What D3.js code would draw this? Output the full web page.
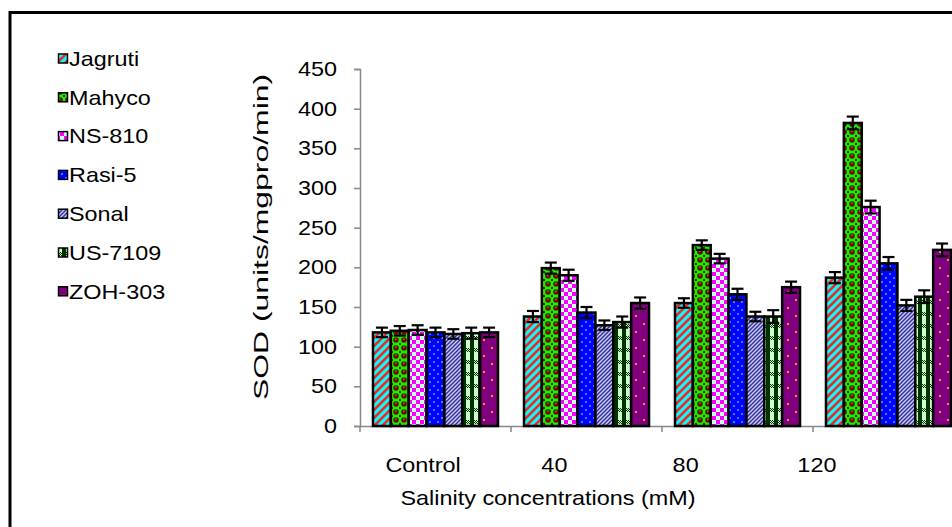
<!DOCTYPE html>
<html><head><meta charset="utf-8">
<script src="https://cdn.jsdelivr.net/npm/d3@7"></script>
<style>
html,body{margin:0;padding:0;background:#fff;}
svg text{font-family:"Liberation Sans",Arial,sans-serif;font-size:20px;fill:#000;}
</style></head>
<body><svg id="c" width="952" height="527"></svg>
<script>
// ---- data ----
const categories = ["Control", "40", "80", "120"];
const series = ["Jagruti", "Mahyco", "NS-810", "Rasi-5", "Sonal", "US-7109", "ZOH-303"];
const jagruti   = [118, 138, 155, 187];
const mahyco    = [120, 199, 228, 382];
const ns810     = [121, 190, 211, 276];
const rasi5     = [118, 143, 166, 205];
const sonal     = [116, 127, 138, 152];
const us7109    = [117, 131, 138, 163];
const zoh303    = [118, 155, 175, 222];
const errJagruti = [6, 7, 6, 7];
const errMahyco  = [6, 7, 6, 8];
const errNs810   = [6, 7, 6, 8];
const errRasi5   = [6, 7, 7, 8];
const errSonal   = [6, 6, 6, 7];
const errUs7109  = [7, 7, 8, 8];
const errZoh303  = [6, 7, 7, 8];
const yTicks = [0, 50, 100, 150, 200, 250, 300, 350, 400, 450];
const yTitle = "SOD (units/mgpro/min)";
const xTitle = "Salinity concentrations (mM)";

const values = [jagruti, mahyco, ns810, rasi5, sonal, us7109, zoh303];
const errors = [errJagruti, errMahyco, errNs810, errRasi5, errSonal, errUs7109, errZoh303];

const SX = 1.17;
const svg = d3.select("#c");
const defs = svg.append("defs");

// ---- patterns ----
function pat(id, w, h, draw) {
  const p = defs.append("pattern").attr("id", id).attr("patternUnits", "userSpaceOnUse")
    .attr("width", w).attr("height", h);
  draw(p);
}
pat("p0", 8, 8, p => {
  p.append("rect").attr("width", 8).attr("height", 8).attr("fill", "#00ffff");
  p.append("path").attr("d", "M-2,10 L10,-2 M-6,6 L6,-6 M2,14 L14,2").attr("stroke", "#ff2020").attr("stroke-width", 2.6);
});
pat("p1", 8, 8, p => {
  p.append("rect").attr("width", 8).attr("height", 8).attr("fill", "#00ff00");
  p.append("circle").attr("cx", 4).attr("cy", 4).attr("r", 2.8).attr("fill", "#800000");
  p.append("circle").attr("cx", 0).attr("cy", 0).attr("r", 1.2).attr("fill", "#800000");
  p.append("circle").attr("cx", 8).attr("cy", 0).attr("r", 1.2).attr("fill", "#800000");
  p.append("circle").attr("cx", 0).attr("cy", 8).attr("r", 1.2).attr("fill", "#800000");
  p.append("circle").attr("cx", 8).attr("cy", 8).attr("r", 1.2).attr("fill", "#800000");
  p.append("rect").attr("x", 3).attr("y", 2.5).attr("width", 1.5).attr("height", 1.5).attr("fill", "#00cc00");
});
pat("p2", 8, 8, p => {
  p.append("rect").attr("width", 8).attr("height", 8).attr("fill", "#ccffff");
  p.append("rect").attr("width", 4).attr("height", 4).attr("fill", "#ff00ff");
  p.append("rect").attr("x", 4).attr("y", 4).attr("width", 4).attr("height", 4).attr("fill", "#ff00ff");
});
pat("p3", 8, 8, p => {
  p.append("rect").attr("width", 8).attr("height", 8).attr("fill", "#0000ff");
  p.append("circle").attr("cx", 2).attr("cy", 2).attr("r", 0.9).attr("fill", "#33ccff");
  p.append("circle").attr("cx", 6).attr("cy", 6).attr("r", 0.9).attr("fill", "#33ccff");
});
pat("p4", 4, 4, p => {
  p.append("rect").attr("width", 4).attr("height", 4).attr("fill", "#ccccff");
  p.append("path").attr("d", "M-1,5 L5,-1 M-3,3 L3,-3 M1,7 L7,1").attr("stroke", "#333399").attr("stroke-width", 1.5);
});
pat("p5", 8, 12, p => {
  p.append("rect").attr("width", 8).attr("height", 12).attr("fill", "#ccffcc");
  p.append("rect").attr("x", 0).attr("width", 2).attr("height", 12).attr("fill", "#003300");
  p.append("rect").attr("x", 6).attr("width", 2).attr("height", 12).attr("fill", "#003300");
  for (let i = 0; i < 8; i++) {
    p.append("rect").attr("x", i).attr("y", (i % 2) * 1).attr("width", 1).attr("height", 1).attr("fill", "#003300");
    p.append("rect").attr("x", i).attr("y", 2 + (i % 2)).attr("width", 1).attr("height", 1).attr("fill", "#003300");
  }
});
pat("p6", 16, 16, p => {
  p.append("rect").attr("width", 16).attr("height", 16).attr("fill", "#800080");
  p.append("circle").attr("cx", 4).attr("cy", 4).attr("r", 1).attr("fill", "#ffcc00");
  p.append("circle").attr("cx", 12).attr("cy", 12).attr("r", 1).attr("fill", "#ffcc00");
});

function txt(g, x, y, s, anchor, rot, sx, fs) {
  const t = g.append("g").attr("transform", `translate(${x},${y}) rotate(${rot || 0}) scale(${sx || SX},1)`);
  const e = t.append("text").attr("text-anchor", anchor).text(s);
  if (fs) e.style("font-size", fs + "px");
  return t;
}

// ---- outer border ----
svg.append("rect").attr("x", 10).attr("y", 12.5).attr("width", 1200).attr("height", 700)
  .attr("fill", "none").attr("stroke", "#000").attr("stroke-width", 3);

// ---- scales ----
const plotLeft = 360, plotRight = 964, plotTop = 69, plotBottom = 426;
const x = d3.scaleBand().domain(categories).range([plotLeft, plotRight]).paddingInner(0.172).paddingOuter(0.086);
const xs = d3.scaleBand().domain(series).range([0, x.bandwidth()]);
const y = d3.scaleLinear().domain([0, 450]).range([plotBottom, plotTop]);
// category labels sit on their own (narrower) band layout, as in the source picture
const xLab = d3.scaleBand().domain(categories).range([357.5, 882.5]);

// ---- axes ----
const gy = svg.append("g").attr("transform", `translate(${plotLeft},0)`)
  .call(d3.axisLeft(y).tickValues(yTicks).tickSize(6).tickFormat(""));
gy.selectAll("path,line").attr("stroke", "#868686").attr("stroke-width", 1.5);

const gx = svg.append("g").attr("transform", `translate(0,${plotBottom})`)
  .call(d3.axisBottom(x).tickSize(0).tickFormat(""));
gx.select("path").attr("stroke", "#868686").attr("stroke-width", 1.5);
const step = x.step();
const bounds = categories.map(c => x(c) - step * x.paddingInner() / 2);
svg.append("g").selectAll("line").data(bounds).join("line")
  .attr("x1", d => d).attr("x2", d => d).attr("y1", plotBottom).attr("y2", plotBottom + 6)
  .attr("stroke", "#868686").attr("stroke-width", 1.5);

const labels = svg.append("g");
yTicks.forEach(t => txt(labels, 337, y(t) + 7, String(t), "end"));
categories.forEach(c => txt(labels, xLab(c) + xLab.bandwidth() / 2, 472, c, "middle"));
txt(labels, 548, 505, xTitle, "middle");
txt(labels, 268, 237, yTitle, "middle", -90, 1.52, 21);

// ---- bars ----
const bars = svg.append("g");
series.forEach((s, si) => {
  const g = bars.append("g");
  categories.forEach((c, ci) => {
    const v = values[si][ci];
    g.append("rect")
      .attr("x", x(c) + xs(s)).attr("width", xs.bandwidth())
      .attr("y", y(v)).attr("height", y(0) - y(v))
      .attr("fill", `url(#p${si})`).attr("stroke", "#000").attr("stroke-width", 2.5);
  });
});
// error bars
const eg = svg.append("g").attr("stroke", "#000").attr("stroke-width", 2.2);
series.forEach((s, si) => {
  categories.forEach((c, ci) => {
    const cx = x(c) + xs(s) + xs.bandwidth() / 2;
    const v = values[si][ci], e = errors[si][ci];
    eg.append("line").attr("x1", cx).attr("x2", cx).attr("y1", y(v + e)).attr("y2", y(v - e));
    eg.append("line").attr("x1", cx - 6).attr("x2", cx + 6).attr("y1", y(v + e)).attr("y2", y(v + e));
    eg.append("line").attr("x1", cx - 6).attr("x2", cx + 6).attr("y1", y(v - e)).attr("y2", y(v - e));
  });
});

// ---- legend ----
const lg = svg.append("g");
series.forEach((s, i) => {
  const cy = 58.5 + i * 38.8;
  lg.append("rect").attr("x", 58.5).attr("y", cy - 4.5).attr("width", 9).attr("height", 9)
    .attr("fill", `url(#p${i})`).attr("stroke", "#000").attr("stroke-width", 1.5);
  txt(lg, 69, cy + 7.2, s, "start");
});
</script></body></html>
